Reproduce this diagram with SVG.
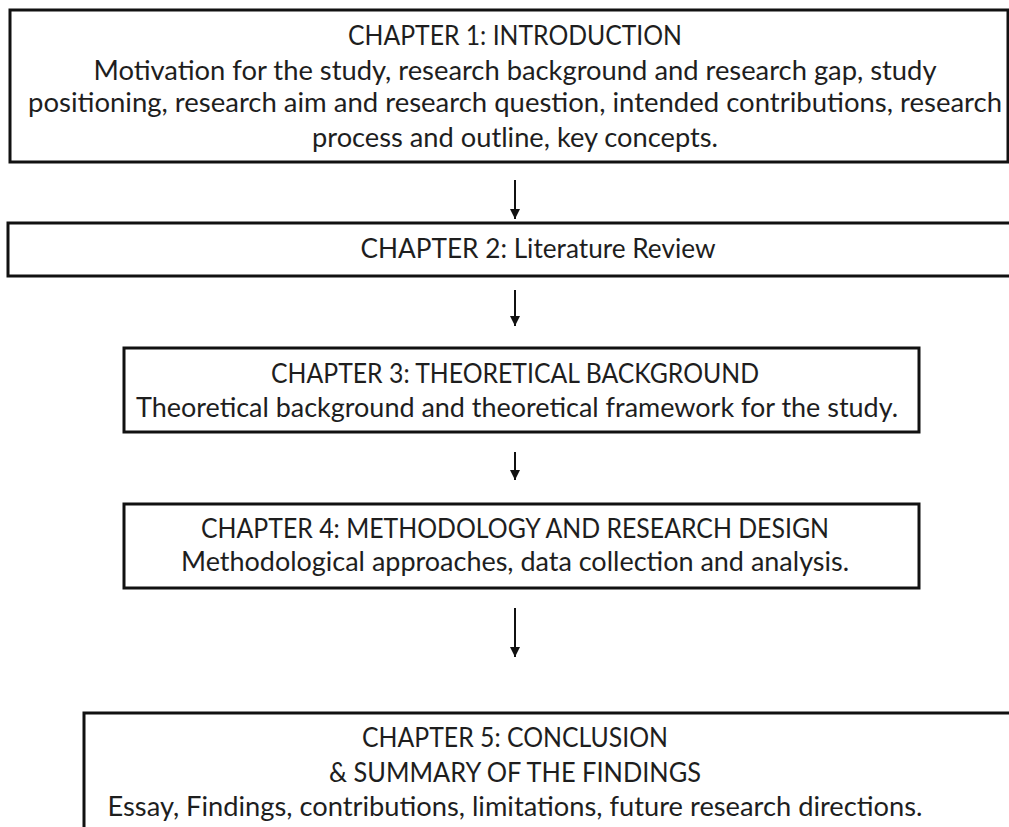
<svg xmlns="http://www.w3.org/2000/svg" width="1009" height="827" viewBox="0 0 1009 827">
  <style>
    .box { fill: #ffffff; stroke: #111111; stroke-width: 3; }
    .t { font-family: Lato, "Liberation Sans", sans-serif; font-size: 26px; fill: #1e1e1e; text-anchor: middle; }
    .link { stroke: #111111; stroke-width: 2; fill: none; marker-end: url(#head); }
  </style>
  <defs>
    <marker id="head" viewBox="0 0 10 10" refX="10" refY="5" markerWidth="5" markerHeight="5" orient="auto" markerUnits="strokeWidth">
      <path d="M0,0 L10,5 L0,10 Z" fill="#111111"/>
    </marker>
  </defs>
  <rect width="1009" height="827" fill="#ffffff"/>

  <g id="chapter1">
    <rect class="box" x="10" y="10" width="998" height="152"/>
    <text class="t" x="515" y="45" textLength="334" lengthAdjust="spacingAndGlyphs">CHAPTER 1: INTRODUCTION</text>
    <text class="t" x="515" y="80" textLength="843" lengthAdjust="spacingAndGlyphs">Motivation for the study, research background and research gap, study</text>
    <text class="t" x="515" y="112" textLength="974" lengthAdjust="spacingAndGlyphs">positioning, research aim and research question, intended contributions, research</text>
    <text class="t" x="515" y="147" textLength="406" lengthAdjust="spacingAndGlyphs">process and outline, key concepts.</text>
  </g>

  <g id="chapter2">
    <rect class="box" x="8" y="223" width="1010" height="53"/>
    <text class="t" x="538" y="258" textLength="355" lengthAdjust="spacingAndGlyphs">CHAPTER 2: Literature Review</text>
  </g>

  <g id="chapter3">
    <rect class="box" x="124" y="348" width="795" height="84"/>
    <text class="t" x="515" y="383" textLength="488" lengthAdjust="spacingAndGlyphs">CHAPTER 3: THEORETICAL BACKGROUND</text>
    <text class="t" x="517" y="417" textLength="762" lengthAdjust="spacingAndGlyphs">Theoretical background and theoretical framework for the study.</text>
  </g>

  <g id="chapter4">
    <rect class="box" x="124" y="504" width="795" height="84"/>
    <text class="t" x="515" y="538" textLength="628" lengthAdjust="spacingAndGlyphs">CHAPTER 4: METHODOLOGY AND RESEARCH DESIGN</text>
    <text class="t" x="515" y="571" textLength="668" lengthAdjust="spacingAndGlyphs">Methodological approaches, data collection and analysis.</text>
  </g>

  <g id="chapter5">
    <rect class="box" x="84" y="713" width="940" height="130"/>
    <text class="t" x="515" y="747" textLength="306" lengthAdjust="spacingAndGlyphs">CHAPTER 5: CONCLUSION</text>
    <text class="t" x="515" y="782" textLength="372" lengthAdjust="spacingAndGlyphs">&amp; SUMMARY OF THE FINDINGS</text>
    <text class="t" x="515" y="816" textLength="815" lengthAdjust="spacingAndGlyphs">Essay, Findings, contributions, limitations, future research directions.</text>
  </g>

  <g id="connectors">
    <line class="link" x1="515" y1="180" x2="515" y2="219"/>
    <line class="link" x1="515" y1="290" x2="515" y2="326"/>
    <line class="link" x1="515" y1="452" x2="515" y2="480"/>
    <line class="link" x1="515" y1="608" x2="515" y2="657"/>
  </g>
</svg>
